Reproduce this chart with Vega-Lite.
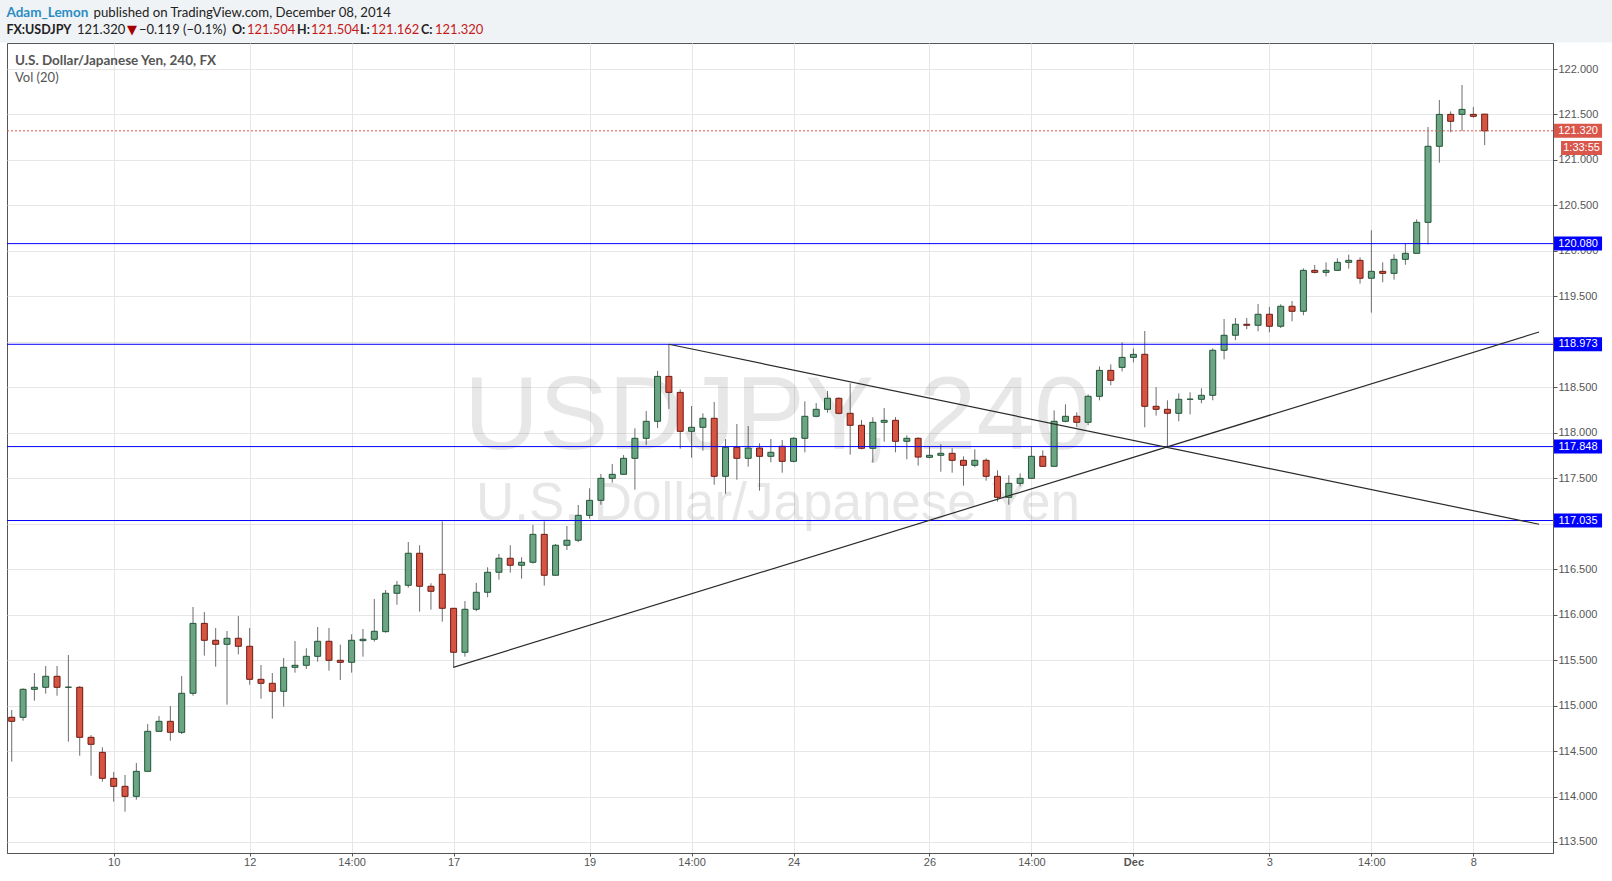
{
  "$schema": "https://vega.github.io/schema/vega-lite/v6.json",
  "width": 1546,
  "height": 810,
  "autosize": {"type": "none"},
  "padding": {"left": 7, "top": 43, "right": 59, "bottom": 28},
  "background": "#ffffff",
  "config": {
    "view": {"stroke": "#555555", "strokeWidth": 1},
    "text": {"font": "Lato"}
  },
  "datasets": {
    "candles": [
      {"t":-9,"open":114.871,"high":114.951,"low":114.383,"close":114.827},
      {"t":-8,"open":114.871,"high":115.190,"low":114.834,"close":115.179},
      {"t":-7,"open":115.179,"high":115.358,"low":115.054,"close":115.201},
      {"t":-6,"open":115.201,"high":115.435,"low":115.131,"close":115.322},
      {"t":-5,"open":115.322,"high":115.435,"low":115.109,"close":115.201},
      {"t":-4,"open":115.201,"high":115.556,"low":114.603,"close":115.203},
      {"t":-3,"open":115.201,"high":115.215,"low":114.449,"close":114.651},
      {"t":-2,"open":114.651,"high":114.676,"low":114.229,"close":114.574},
      {"t":-1,"open":114.486,"high":114.541,"low":114.163,"close":114.200},
      {"t":0,"open":114.200,"high":114.270,"low":113.943,"close":114.112},
      {"t":1,"open":114.112,"high":114.237,"low":113.833,"close":114.002},
      {"t":2,"open":114.002,"high":114.369,"low":113.965,"close":114.277},
      {"t":3,"open":114.277,"high":114.797,"low":114.277,"close":114.717},
      {"t":4,"open":114.717,"high":114.885,"low":114.717,"close":114.827},
      {"t":5,"open":114.827,"high":114.995,"low":114.614,"close":114.706},
      {"t":6,"open":114.706,"high":115.325,"low":114.687,"close":115.135},
      {"t":7,"open":115.135,"high":116.084,"low":115.109,"close":115.904},
      {"t":8,"open":115.904,"high":116.029,"low":115.549,"close":115.718},
      {"t":9,"open":115.718,"high":115.853,"low":115.428,"close":115.674},
      {"t":10,"open":115.674,"high":115.820,"low":115.010,"close":115.740},
      {"t":11,"open":115.740,"high":115.985,"low":115.564,"close":115.652},
      {"t":12,"open":115.652,"high":115.853,"low":115.230,"close":115.289},
      {"t":13,"open":115.289,"high":115.446,"low":115.076,"close":115.245},
      {"t":14,"open":115.245,"high":115.358,"low":114.856,"close":115.157},
      {"t":15,"open":115.157,"high":115.523,"low":114.988,"close":115.421},
      {"t":16,"open":115.421,"high":115.710,"low":115.362,"close":115.443},
      {"t":17,"open":115.443,"high":115.630,"low":115.403,"close":115.542},
      {"t":18,"open":115.542,"high":115.864,"low":115.483,"close":115.707},
      {"t":19,"open":115.707,"high":115.853,"low":115.384,"close":115.498},
      {"t":20,"open":115.498,"high":115.670,"low":115.282,"close":115.476},
      {"t":21,"open":115.476,"high":115.784,"low":115.362,"close":115.718},
      {"t":22,"open":115.714,"high":115.842,"low":115.538,"close":115.729},
      {"t":23,"open":115.729,"high":116.172,"low":115.703,"close":115.817},
      {"t":24,"open":115.813,"high":116.271,"low":115.802,"close":116.235},
      {"t":25,"open":116.235,"high":116.370,"low":116.110,"close":116.323},
      {"t":26,"open":116.323,"high":116.799,"low":116.297,"close":116.675},
      {"t":27,"open":116.675,"high":116.763,"low":116.033,"close":116.312},
      {"t":28,"open":116.312,"high":116.345,"low":116.055,"close":116.257},
      {"t":29,"open":116.444,"high":117.026,"low":115.923,"close":116.070},
      {"t":30,"open":116.070,"high":116.070,"low":115.421,"close":115.586},
      {"t":31,"open":115.586,"high":116.150,"low":115.538,"close":116.059},
      {"t":32,"open":116.059,"high":116.348,"low":116.037,"close":116.246},
      {"t":33,"open":116.246,"high":116.521,"low":116.191,"close":116.466},
      {"t":34,"open":116.466,"high":116.667,"low":116.385,"close":116.620},
      {"t":35,"open":116.620,"high":116.763,"low":116.462,"close":116.543},
      {"t":36,"open":116.543,"high":116.631,"low":116.396,"close":116.576},
      {"t":37,"open":116.576,"high":116.986,"low":116.561,"close":116.883},
      {"t":38,"open":116.883,"high":117.026,"low":116.319,"close":116.433},
      {"t":39,"open":116.433,"high":116.777,"low":116.433,"close":116.763},
      {"t":40,"open":116.763,"high":116.975,"low":116.711,"close":116.818},
      {"t":41,"open":116.818,"high":117.206,"low":116.796,"close":117.092},
      {"t":42,"open":117.092,"high":117.389,"low":117.056,"close":117.257},
      {"t":43,"open":117.257,"high":117.546,"low":117.209,"close":117.499},
      {"t":44,"open":117.499,"high":117.656,"low":117.451,"close":117.543},
      {"t":45,"open":117.543,"high":117.755,"low":117.543,"close":117.719},
      {"t":46,"open":117.719,"high":118.049,"low":117.374,"close":117.939},
      {"t":47,"open":117.939,"high":118.239,"low":117.865,"close":118.126},
      {"t":48,"open":118.126,"high":118.679,"low":118.052,"close":118.620},
      {"t":49,"open":118.620,"high":118.973,"low":118.261,"close":118.444},
      {"t":50,"open":118.444,"high":118.477,"low":117.825,"close":118.016},
      {"t":51,"open":118.016,"high":118.294,"low":117.726,"close":118.060},
      {"t":52,"open":118.060,"high":118.214,"low":117.803,"close":118.159},
      {"t":53,"open":118.159,"high":118.338,"low":117.429,"close":117.521},
      {"t":54,"open":117.521,"high":117.931,"low":117.330,"close":117.840},
      {"t":55,"open":117.840,"high":118.096,"low":117.484,"close":117.719},
      {"t":56,"open":117.719,"high":118.074,"low":117.627,"close":117.832},
      {"t":57,"open":117.832,"high":117.884,"low":117.363,"close":117.741},
      {"t":58,"open":117.741,"high":117.931,"low":117.675,"close":117.785},
      {"t":59,"open":117.851,"high":117.920,"low":117.561,"close":117.686},
      {"t":60,"open":117.686,"high":117.950,"low":117.675,"close":117.939},
      {"t":61,"open":117.939,"high":118.346,"low":117.785,"close":118.181},
      {"t":62,"open":118.181,"high":118.327,"low":118.170,"close":118.258},
      {"t":63,"open":118.258,"high":118.459,"low":118.221,"close":118.379},
      {"t":64,"open":118.379,"high":118.390,"low":118.203,"close":118.214},
      {"t":65,"open":118.214,"high":118.544,"low":117.759,"close":118.082},
      {"t":66,"open":118.082,"high":118.140,"low":117.818,"close":117.829},
      {"t":67,"open":117.829,"high":118.170,"low":117.671,"close":118.115},
      {"t":68,"open":118.115,"high":118.272,"low":117.902,"close":118.137},
      {"t":69,"open":118.137,"high":118.173,"low":117.785,"close":117.906},
      {"t":70,"open":117.906,"high":117.972,"low":117.708,"close":117.939},
      {"t":71,"open":117.939,"high":117.950,"low":117.638,"close":117.733},
      {"t":72,"open":117.730,"high":117.851,"low":117.719,"close":117.752},
      {"t":73,"open":117.752,"high":117.873,"low":117.572,"close":117.774},
      {"t":74,"open":117.774,"high":117.829,"low":117.561,"close":117.697},
      {"t":75,"open":117.697,"high":117.741,"low":117.418,"close":117.642},
      {"t":76,"open":117.642,"high":117.818,"low":117.620,"close":117.697},
      {"t":77,"open":117.697,"high":117.719,"low":117.473,"close":117.521},
      {"t":78,"open":117.521,"high":117.587,"low":117.242,"close":117.290},
      {"t":79,"open":117.290,"high":117.532,"low":117.209,"close":117.444},
      {"t":80,"open":117.444,"high":117.554,"low":117.411,"close":117.499},
      {"t":81,"open":117.499,"high":117.851,"low":117.499,"close":117.741},
      {"t":82,"open":117.741,"high":117.807,"low":117.631,"close":117.631},
      {"t":83,"open":117.631,"high":118.247,"low":117.631,"close":118.126},
      {"t":84,"open":118.126,"high":118.313,"low":118.115,"close":118.181},
      {"t":85,"open":118.181,"high":118.225,"low":118.060,"close":118.115},
      {"t":86,"open":118.115,"high":118.423,"low":118.082,"close":118.401},
      {"t":87,"open":118.401,"high":118.730,"low":118.357,"close":118.686},
      {"t":88,"open":118.686,"high":118.752,"low":118.522,"close":118.577},
      {"t":89,"open":118.719,"high":118.994,"low":118.675,"close":118.829},
      {"t":90,"open":118.829,"high":118.928,"low":118.774,"close":118.862},
      {"t":91,"open":118.863,"high":119.119,"low":118.060,"close":118.291},
      {"t":92,"open":118.291,"high":118.503,"low":118.188,"close":118.258},
      {"t":93,"open":118.258,"high":118.357,"low":117.848,"close":118.214},
      {"t":94,"open":118.214,"high":118.434,"low":118.126,"close":118.368},
      {"t":95,"open":118.368,"high":118.445,"low":118.203,"close":118.370},
      {"t":96,"open":118.368,"high":118.489,"low":118.324,"close":118.412},
      {"t":97,"open":118.412,"high":118.929,"low":118.357,"close":118.907},
      {"t":98,"open":118.907,"high":119.251,"low":118.808,"close":119.072},
      {"t":99,"open":119.072,"high":119.262,"low":119.017,"close":119.193},
      {"t":100,"open":119.193,"high":119.262,"low":119.138,"close":119.182},
      {"t":101,"open":119.182,"high":119.416,"low":119.116,"close":119.303},
      {"t":102,"open":119.303,"high":119.383,"low":119.105,"close":119.171},
      {"t":103,"open":119.171,"high":119.413,"low":119.152,"close":119.391},
      {"t":104,"open":119.391,"high":119.449,"low":119.226,"close":119.336},
      {"t":105,"open":119.336,"high":119.808,"low":119.292,"close":119.786},
      {"t":106,"open":119.786,"high":119.845,"low":119.753,"close":119.764},
      {"t":107,"open":119.764,"high":119.874,"low":119.720,"close":119.786},
      {"t":108,"open":119.786,"high":119.918,"low":119.786,"close":119.874},
      {"t":109,"open":119.874,"high":119.959,"low":119.805,"close":119.896},
      {"t":110,"open":119.896,"high":119.929,"low":119.640,"close":119.699},
      {"t":111,"open":119.699,"high":120.226,"low":119.321,"close":119.775},
      {"t":112,"open":119.775,"high":119.874,"low":119.655,"close":119.753},
      {"t":113,"open":119.753,"high":119.962,"low":119.684,"close":119.907},
      {"t":114,"open":119.907,"high":120.076,"low":119.848,"close":119.973},
      {"t":115,"open":119.973,"high":120.347,"low":119.973,"close":120.314},
      {"t":116,"open":120.314,"high":121.362,"low":120.072,"close":121.150},
      {"t":117,"open":121.150,"high":121.659,"low":120.970,"close":121.501},
      {"t":118,"open":121.501,"high":121.534,"low":121.304,"close":121.425},
      {"t":119,"open":121.501,"high":121.824,"low":121.318,"close":121.556},
      {"t":120,"open":121.501,"high":121.582,"low":121.465,"close":121.480},
      {"t":121,"open":121.504,"high":121.504,"low":121.162,"close":121.320}
    ],
    "levels": [{"v":120.080},{"v":118.973},{"v":117.848},{"v":117.035}],
    "trends": [
      {"k":"up","t":29.97,"p":115.42},
      {"k":"up","t":125.8,"p":119.108},
      {"k":"down","t":49.0,"p":118.973},
      {"k":"down","t":125.8,"p":116.994}
    ],
    "one": [{}]
  },
  "layer": [
    {
      "data": {"name": "candles"},
      "mark": {"type": "rule", "color": "#6d6d6d", "strokeWidth": 1},
      "encoding": {
        "x": {"field": "t", "type": "quantitative",
              "scale": {"domain": [-9.417, 127.03], "nice": false, "zero": false, "padding": 0},
              "axis": {
                "orient": "bottom", "title": null,
                "values": [0,12,21,30,42,51,60,72,81,90,102,111,120],
                "labelExpr": "datum.value==0?'10':datum.value==12?'12':(datum.value==21||datum.value==51||datum.value==81||datum.value==111)?'14:00':datum.value==30?'17':datum.value==42?'19':datum.value==60?'24':datum.value==72?'26':datum.value==90?'Dec':datum.value==102?'3':datum.value==120?'8':''",
                "labelFontWeight": {"condition": {"test": "datum.value==90", "value": "bold"}, "value": "normal"},
                "grid": true, "gridColor": "#e6e6e6", "gridWidth": 1,
                "domainColor": "#555555", "tickColor": "#555555", "tickSize": 3,
                "labelColor": "#555555", "labelFont": "Liberation Sans", "labelFontSize": 11,
                "labelPadding": 0, "labelFlush": false, "labelOverlap": false
              }},
        "y": {"field": "low", "type": "quantitative",
              "scale": {"domain": [113.379, 122.286], "nice": false, "zero": false, "padding": 0},
              "axis": {
                "orient": "right", "title": null,
                "values": [113.5,114,114.5,115,115.5,116,116.5,117,117.5,118,118.5,119,119.5,120,120.5,121,121.5,122],
                "format": ".3f",
                "grid": true, "gridColor": "#e6e6e6", "gridWidth": 1,
                "domainColor": "#555555", "tickColor": "#555555", "tickSize": 4,
                "labelColor": "#555555", "labelFont": "Liberation Sans", "labelFontSize": 11,
                "labelPadding": 1, "labelFlush": false, "labelOverlap": false
              }},
        "y2": {"field": "high"}
      }
    },
    {
      "data": {"name": "one"},
      "mark": {"type": "text", "font": "Liberation Sans", "fontSize": 104, "color": "#000000", "opacity": 0.09, "align": "center", "baseline": "middle"},
      "encoding": {"x": {"datum": 58.63}, "y": {"datum": 118.162}, "text": {"value": "USDJPY, 240"}}
    },
    {
      "data": {"name": "one"},
      "mark": {"type": "text", "font": "Liberation Sans", "fontSize": 53, "color": "#000000", "opacity": 0.09, "align": "center", "baseline": "middle"},
      "encoding": {"x": {"datum": 58.63}, "y": {"datum": 117.222}, "text": {"value": "U.S. Dollar/Japanese Yen"}}
    },
    {
      "data": {"name": "candles"},
      "mark": {"type": "bar", "width": 6, "strokeWidth": 1},
      "encoding": {
        "x": {"field": "t", "type": "quantitative"},
        "y": {"field": "open", "type": "quantitative"},
        "y2": {"field": "close"},
        "color": {"condition": {"test": "datum.close >= datum.open", "value": "#6ba583"}, "value": "#d75442"},
        "stroke": {"condition": {"test": "datum.close >= datum.open", "value": "#225437"}, "value": "#6b1c13"}
      }
    },
    {
      "data": {"name": "levels"},
      "mark": {"type": "rule", "color": "#0000ff", "strokeWidth": 1},
      "encoding": {"y": {"field": "v", "type": "quantitative"}}
    },
    {
      "data": {"name": "one"},
      "mark": {"type": "rule", "color": "#d9564a", "strokeWidth": 1, "strokeDash": [2, 2]},
      "encoding": {"y": {"datum": 121.32}}
    },
    {
      "data": {"name": "trends"},
      "mark": {"type": "line", "color": "#2b2b2b", "strokeWidth": 1.2},
      "encoding": {
        "x": {"field": "t", "type": "quantitative"},
        "y": {"field": "p", "type": "quantitative"},
        "detail": {"field": "k"}
      }
    },
    {
      "data": {"name": "levels"},
      "mark": {"type": "rule", "color": "#0000ff", "strokeWidth": 14},
      "encoding": {"x": {"datum": 127.12}, "x2": {"datum": 131.36}, "y": {"field": "v", "type": "quantitative"}}
    },
    {
      "data": {"name": "levels"},
      "mark": {"type": "text", "font": "Liberation Sans", "fontSize": 11, "color": "#ffffff", "align": "center", "baseline": "middle"},
      "encoding": {"x": {"datum": 129.24}, "y": {"field": "v", "type": "quantitative"}, "text": {"field": "v", "format": ".3f"}}
    },
    {
      "data": {"name": "one"},
      "mark": {"type": "rule", "color": "#d9564a", "strokeWidth": 14},
      "encoding": {"x": {"datum": 127.12}, "x2": {"datum": 131.36}, "y": {"datum": 121.32}}
    },
    {
      "data": {"name": "one"},
      "mark": {"type": "text", "font": "Liberation Sans", "fontSize": 11, "color": "#ffffff", "align": "center", "baseline": "middle"},
      "encoding": {"x": {"datum": 129.24}, "y": {"datum": 121.32}, "text": {"value": "121.320"}}
    },
    {
      "data": {"name": "one"},
      "mark": {"type": "rule", "color": "#d9564a", "strokeWidth": 14},
      "encoding": {"x": {"datum": 127.74}, "x2": {"datum": 131.36}, "y": {"datum": 121.131}}
    },
    {
      "data": {"name": "one"},
      "mark": {"type": "text", "font": "Liberation Sans", "fontSize": 11, "color": "#ffffff", "align": "center", "baseline": "middle"},
      "encoding": {"x": {"datum": 129.55}, "y": {"datum": 121.131}, "text": {"value": "1:33:55"}}
    },
    {
      "data": {"name": "one"},
      "mark": {"type": "rect", "color": "#f0f3f6"},
      "encoding": {"x": {"datum": -10.1}, "x2": {"datum": 132.3}, "y": {"datum": 122.77}, "y2": {"datum": 122.292}}
    },
    {
      "data": {"name": "one"},
      "mark": {"type": "text", "fontSize": 13.5, "fontWeight": "bold", "color": "#555555", "align": "left", "baseline": "alphabetic"},
      "encoding": {"x": {"datum": -8.71}, "y": {"datum": 122.044}, "text": {"value": "U.S. Dollar/Japanese Yen, 240, FX"}}
    },
    {
      "data": {"name": "one"},
      "mark": {"type": "text", "fontSize": 13, "color": "#555555", "align": "left", "baseline": "alphabetic"},
      "encoding": {"x": {"datum": -8.71}, "y": {"datum": 121.857}, "text": {"value": "Vol (20)"}}
    },
    {
      "data": {"name": "one"},
      "mark": {"type": "text", "fontSize": 13.5, "fontWeight": "bold", "color": "#2a8cc4", "align": "left", "baseline": "alphabetic"},
      "encoding": {"x": {"datum": -9.47}, "y": {"datum": 122.574}, "text": {"value": "Adam_Lemon"}}
    },
    {
      "data": {"name": "one"},
      "mark": {"type": "text", "fontSize": 13.2, "color": "#222222", "align": "left", "baseline": "alphabetic"},
      "encoding": {"x": {"datum": -1.774}, "y": {"datum": 122.574}, "text": {"value": "published on TradingView.com, December 08, 2014"}}
    },
    {
      "data": {"name": "one"},
      "mark": {"type": "text", "fontSize": 12.5, "fontWeight": "bold", "color": "#222222", "align": "left", "baseline": "alphabetic"},
      "encoding": {"x": {"datum": -9.47}, "y": {"datum": 122.385}, "text": {"value": "FX:USDJPY"}}
    },
    {
      "data": {"name": "one"},
      "mark": {"type": "text", "fontSize": 13, "color": "#222222", "align": "left", "baseline": "alphabetic"},
      "encoding": {"x": {"datum": -3.239}, "y": {"datum": 122.385}, "text": {"value": "121.320"}}
    },
    {
      "data": {"name": "one"},
      "mark": {"type": "text", "font": "DejaVu Sans", "fontSize": 13, "color": "#a80000", "align": "left", "baseline": "alphabetic"},
      "encoding": {"x": {"datum": 1.174}, "y": {"datum": 122.385}, "text": {"value": "▼"}}
    },
    {
      "data": {"name": "one"},
      "mark": {"type": "text", "fontSize": 13, "color": "#222222", "align": "left", "baseline": "alphabetic"},
      "encoding": {"x": {"datum": 2.233}, "y": {"datum": 122.385}, "text": {"value": "−0.119 (−0.1%)"}}
    },
    {
      "data": {"name": "one"},
      "mark": {"type": "text", "fontSize": 12.5, "fontWeight": "bold", "color": "#222222", "align": "left", "baseline": "alphabetic"},
      "encoding": {"x": {"datum": 10.441}, "y": {"datum": 122.385}, "text": {"value": "O:"}}
    },
    {
      "data": {"name": "one"},
      "mark": {"type": "text", "fontSize": 13, "color": "#c41a1a", "align": "left", "baseline": "alphabetic"},
      "encoding": {"x": {"datum": 11.765}, "y": {"datum": 122.385}, "text": {"value": "121.504"}}
    },
    {
      "data": {"name": "one"},
      "mark": {"type": "text", "fontSize": 12.5, "fontWeight": "bold", "color": "#222222", "align": "left", "baseline": "alphabetic"},
      "encoding": {"x": {"datum": 16.178}, "y": {"datum": 122.385}, "text": {"value": "H:"}}
    },
    {
      "data": {"name": "one"},
      "mark": {"type": "text", "fontSize": 13, "color": "#c41a1a", "align": "left", "baseline": "alphabetic"},
      "encoding": {"x": {"datum": 17.414}, "y": {"datum": 122.385}, "text": {"value": "121.504"}}
    },
    {
      "data": {"name": "one"},
      "mark": {"type": "text", "fontSize": 12.5, "fontWeight": "bold", "color": "#222222", "align": "left", "baseline": "alphabetic"},
      "encoding": {"x": {"datum": 21.739}, "y": {"datum": 122.385}, "text": {"value": "L:"}}
    },
    {
      "data": {"name": "one"},
      "mark": {"type": "text", "fontSize": 13, "color": "#c41a1a", "align": "left", "baseline": "alphabetic"},
      "encoding": {"x": {"datum": 22.71}, "y": {"datum": 122.385}, "text": {"value": "121.162"}}
    },
    {
      "data": {"name": "one"},
      "mark": {"type": "text", "fontSize": 12.5, "fontWeight": "bold", "color": "#222222", "align": "left", "baseline": "alphabetic"},
      "encoding": {"x": {"datum": 27.123}, "y": {"datum": 122.385}, "text": {"value": "C:"}}
    },
    {
      "data": {"name": "one"},
      "mark": {"type": "text", "fontSize": 13, "color": "#c41a1a", "align": "left", "baseline": "alphabetic"},
      "encoding": {"x": {"datum": 28.358}, "y": {"datum": 122.385}, "text": {"value": "121.320"}}
    }
  ]
}
